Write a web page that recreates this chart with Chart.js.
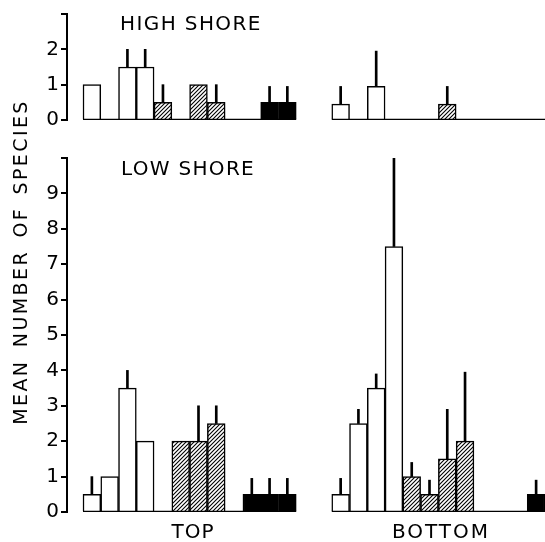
<!DOCTYPE html>
<html>
<head>
<meta charset="utf-8">
<script src="https://cdn.jsdelivr.net/npm/chart.js@4/dist/chart.umd.min.js"></script>
<style>
  body { margin: 0; background: #fff; }
  #wrap { position: relative; width: 545px; height: 542px; background: #fff; overflow: hidden; }
  canvas { position: absolute; left: 0; }
  .txt { position: absolute; font-family: "DejaVu Sans", sans-serif; font-size: 20px; line-height: 20px; color: #000; white-space: nowrap; }
</style>
</head>
<body>
<div id="wrap">
  <canvas id="high" width="545" height="134" style="top:0"></canvas>
  <canvas id="low" width="545" height="402" style="top:140px"></canvas>
  <div class="txt" style="left:120px; top:13px; letter-spacing:1.4px">HIGH SHORE</div>
  <div class="txt" style="left:121px; top:158px; letter-spacing:1.3px">LOW SHORE</div>
  <div class="txt" style="left:93px; top:521px; width:200px; text-align:center; letter-spacing:1px">TOP</div>
  <div class="txt" style="left:341px; top:521px; width:200px; text-align:center; letter-spacing:2px">BOTTOM</div>
  <div class="txt" style="left:-180.5px; top:252px; width:400px; text-align:center; font-size:19px; letter-spacing:2.4px; word-spacing:4px; transform:rotate(-90deg)">MEAN NUMBER OF SPECIES</div>
</div>
<script>
// bar fill per slot: 4 open, 4 hatched, 4 solid, same order in each panel
const fills = ["open", "open", "open", "open", "hatched", "hatched", "hatched", "hatched", "solid", "solid", "solid", "solid"];

// high shore, mean number of species and top of error line
const highTop = [1.0, 0, 1.5, 1.5, 0.5, 0, 1.0, 0.5, 0, 0, 0.5, 0.5];
const highTopErr = [null, null, 2.0, 2.0, 1.0, null, null, 1.0, null, null, 0.95, 0.95];
const highBottom = [0.45, 0, 0.95, 0, 0, 0, 0.45, 0, 0, 0, 0, 0];
const highBottomErr = [0.95, null, 1.95, null, null, null, 0.95, null, null, null, null, null];

// low shore
const lowTop = [0.5, 1.0, 3.5, 2.0, 0, 2.0, 2.0, 2.5, 0, 0.5, 0.5, 0.5];
const lowTopErr = [1.0, null, 4.0, null, null, null, 3.0, 3.0, null, 0.95, 0.95, 0.95];
const lowBottom = [0.5, 2.5, 3.5, 7.5, 1.0, 0.5, 1.5, 2.0, 0, 0, 0, 0.5];
const lowBottomErr = [0.95, 2.9, 3.9, 10.0, 1.4, 0.9, 2.9, 3.95, null, null, null, 0.9];

const highTicks = [0, 1, 2, 3];
const lowTicks = [0, 1, 2, 3, 4, 5, 6, 7, 8, 9, 10];

// slot index where the BOTTOM panel starts (two empty slots between panels)
const rightStart = fills.length + 2;

function hatchPattern() {
  const c = document.createElement("canvas");
  c.width = 4;
  c.height = 4;
  const g = c.getContext("2d");
  g.fillStyle = "#fff";
  g.fillRect(0, 0, 4, 4);
  g.strokeStyle = "#000";
  g.lineWidth = 1.1;
  g.beginPath();
  g.moveTo(0, 4); g.lineTo(4, 0);
  g.moveTo(-1, 1); g.lineTo(1, -1);
  g.moveTo(3, 5); g.lineTo(5, 3);
  g.stroke();
  return g.createPattern(c, "repeat");
}

const hatch = hatchPattern();
const fillColor = { open: "#fff", hatched: hatch, solid: "#000" };

function makeChart(canvasId, left, leftErr, right, rightErr, ticks, pad) {
  const bars = [];
  const colors = [];
  const errs = [];
  [[left, leftErr, 0], [right, rightErr, rightStart]].forEach(([vals, tops, off]) => {
    vals.forEach((v, i) => {
      bars.push({ x: off + i, y: v });
      colors.push(fillColor[fills[i]]);
      if (tops[i] != null) errs.push({ x: off + i, y: [v, tops[i]] });
    });
  });
  const n = fills.length;
  const yMax = ticks[ticks.length - 1];

  return new Chart(document.getElementById(canvasId), {
    data: {
      datasets: [
        {
          type: "bar",
          data: bars,
          backgroundColor: colors,
          borderColor: "#000",
          borderWidth: 1.5,
          grouped: false,
          barPercentage: 1,
          categoryPercentage: 1,
          order: 2,
        },
        {
          type: "bar",
          data: errs,
          backgroundColor: "#000",
          borderWidth: 0,
          barThickness: 2,
          grouped: false,
          order: 1,
        },
        {
          type: "line",
          data: [{ x: -0.5, y: 0 }, { x: n - 0.5, y: 0 }],
          borderColor: "#000",
          borderWidth: 2.5,
          pointRadius: 0,
          order: 0,
        },
        {
          type: "line",
          data: [{ x: rightStart - 0.5, y: 0 }, { x: rightStart + n - 0.5, y: 0 }],
          borderColor: "#000",
          borderWidth: 2.5,
          pointRadius: 0,
          order: 0,
        },
      ],
    },
    options: {
      responsive: false,
      animation: false,
      devicePixelRatio: 1,
      layout: { padding: pad },
      plugins: { legend: { display: false }, tooltip: { enabled: false } },
      scales: {
        x: {
          type: "linear",
          display: false,
          offset: false,
          min: -1.4,
          max: rightStart + n - 0.5,
          ticks: { stepSize: 1, includeBounds: false },
        },
        y: {
          min: 0,
          max: yMax,
          afterFit: (s) => { s.width = 67; },
          afterBuildTicks: (s) => { s.ticks = ticks.map((v) => ({ value: v })); },
          ticks: {
            color: "#000",
            padding: 2,
            font: { family: "DejaVu Sans", size: 20 },
            callback: (v) => (v === yMax ? "" : String(v)),
          },
          grid: { drawOnChartArea: false, drawTicks: true, tickLength: 6, color: "#000", lineWidth: 2 },
          border: { display: true, color: "#000", width: 2 },
        },
      },
    },
  });
}

makeChart("high", highTop, highTopErr, highBottom, highBottomErr, highTicks, { top: 14, bottom: 14, left: 0, right: 0 });
makeChart("low", lowTop, lowTopErr, lowBottom, lowBottomErr, lowTicks, { top: 18, bottom: 30, left: 0, right: 0 });
</script>
</body>
</html>
